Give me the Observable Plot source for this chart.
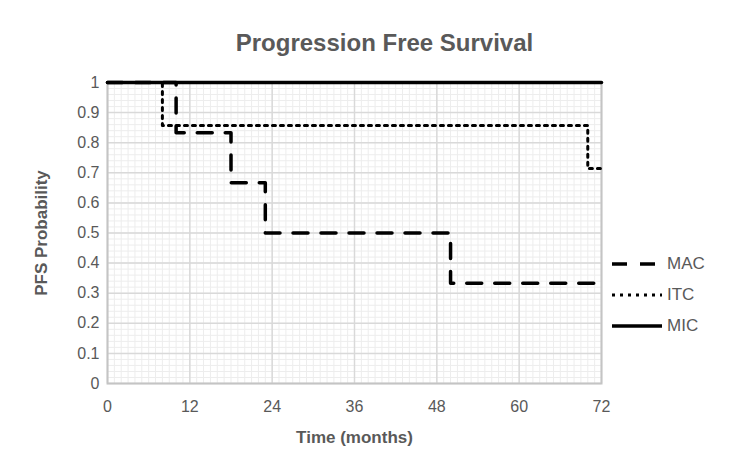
<!DOCTYPE html>
<html>
<head>
<meta charset="utf-8">
<script src="https://cdn.jsdelivr.net/npm/d3@7"></script>
<script src="https://cdn.jsdelivr.net/npm/@observablehq/plot@0.6"></script>
<style>
  html, body { margin: 0; padding: 0; background: #fff; }
  #wrap { position: relative; width: 748px; height: 449px; font-family: "Liberation Sans", Arial, sans-serif; }
  #legend { position: absolute; left: 612px; top: 0; }
  .item { position: absolute; left: 0; display: flex; align-items: center; height: 24px; margin-top: -12px; white-space: nowrap; }
  .item span { margin-left: 5px; font-size: 17px; color: #595959; }
</style>
</head>
<body>
<div id="wrap"><div id="legend"></div></div>
<script>
// Data
const series = ["MAC", "ITC", "MIC"];
const macTime = [0, 10, 18, 23, 50, 72];
const macSurv = [1, 0.833, 0.667, 0.5, 0.333, 0.333];
const itcTime = [0, 8, 70, 72];
const itcSurv = [1, 0.857, 0.714, 0.714];
const micTime = [0, 72];
const micSurv = [1, 1];
const xTicks = [0, 12, 24, 36, 48, 60, 72];
const yTicks = [0, 0.1, 0.2, 0.3, 0.4, 0.5, 0.6, 0.7, 0.8, 0.9, 1];
const titleText = "Progression Free Survival";
const xLabel = "Time (months)";
const yLabel = "PFS Probability";

const styles = {
  MAC: {strokeDasharray: "15,13", strokeWidth: 3.5},
  ITC: {strokeDasharray: "3,5", strokeWidth: 3},
  MIC: {strokeDasharray: null, strokeWidth: 3.5}
};

const toRows = (t, s) => t.map((d, i) => ({t: d, s: s[i]}));
const mac = toRows(macTime, macSurv);
const itc = toRows(itcTime, itcSurv);
const mic = toRows(micTime, micSurv);

const minorX = d3.range(0, 73, 1);
const minorY = d3.range(0, 51, 1).map(d => d / 50);

const txt = "#595959";
const font = "Liberation Sans, Arial, sans-serif";

const chart = Plot.plot({
  width: 748,
  height: 449,
  marginLeft: 107,
  marginRight: 147,
  marginTop: 82,
  marginBottom: 66,
  style: {fontFamily: font, background: "#fff"},
  x: {domain: [0, 72]},
  y: {domain: [0, 1]},
  marks: [
    Plot.ruleX(minorX, {stroke: "#ededed", strokeWidth: 1}),
    Plot.ruleY(minorY, {stroke: "#ededed", strokeWidth: 1}),
    Plot.ruleX(xTicks, {stroke: "#d9d9d9", strokeWidth: 1.5}),
    Plot.ruleY(yTicks, {stroke: "#d9d9d9", strokeWidth: 1.5}),
    Plot.frame({stroke: "#c4c4c4", strokeWidth: 2}),
    Plot.axisX(xTicks, {tickSize: 0, tickPadding: 17, fontSize: 16, fill: txt, label: null, tickFormat: d => String(d)}),
    Plot.axisY(yTicks, {tickSize: 0, tickPadding: 8, fontSize: 16, fill: txt, label: null, tickFormat: d => String(+d.toFixed(1))}),
    Plot.line(itc, {x: "t", y: "s", curve: "step-after", stroke: "#000", ...styles.ITC}),
    Plot.line(mac, {x: "t", y: "s", curve: "step-after", stroke: "#000", ...styles.MAC}),
    Plot.line(mic, {x: "t", y: "s", curve: "step-after", stroke: "#000", ...styles.MIC}),
    Plot.text([titleText], {frameAnchor: "top", dy: -39, dx: 30, fontSize: 24, fontWeight: "bold", fill: txt, lineAnchor: "middle"}),
    Plot.text([xLabel], {frameAnchor: "bottom", dy: 54, fontSize: 17, fontWeight: "bold", fill: txt, lineAnchor: "middle"}),
    Plot.text([yLabel], {frameAnchor: "left", dx: -66, dy: 0, rotate: -90, textAnchor: "middle", fontSize: 17, fontWeight: "bold", fill: txt, lineAnchor: "middle"})
  ]
});

const wrap = document.getElementById("wrap");
wrap.insertBefore(chart, wrap.firstChild);

const legendTops = {MAC: 264, ITC: 295, MIC: 326};
const legend = document.getElementById("legend");
for (const name of series) {
  const st = styles[name];
  const item = document.createElement("div");
  item.className = "item";
  item.style.top = legendTops[name] + "px";
  item.innerHTML = `<svg width="50" height="10"><line x1="0" y1="5" x2="50" y2="5" stroke="#000" stroke-width="${st.strokeWidth}" ${st.strokeDasharray ? `stroke-dasharray="${st.strokeDasharray}"` : ""}/></svg><span>${name}</span>`;
  legend.appendChild(item);
}
</script>
</body>
</html>
